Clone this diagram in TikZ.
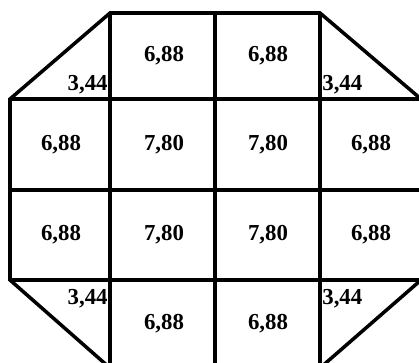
\documentclass[tikz,border=0pt]{standalone}
\usepackage{fontspec}
\setmainfont{Liberation Serif}
\usepackage{tikz}

\begin{document}
\begin{tikzpicture}[
    x=0.02cm, y=-0.02cm,
    edge/.style={line width=2pt, line join=miter, color=black},
    val/.style={font=\fontsize{13}{15}\bfseries\selectfont, inner sep=0pt}
]
  \useasboundingbox (0,0) rectangle (419,362);
  % Octagonal outline
  \draw[edge] (110,13) -- (320,13) -- (421,99) -- (421,280) -- (320,368)
    -- (110,368) -- (10,280) -- (10,99) -- cycle;
  % Inner grid lines
  \draw[edge] (110,13) -- (110,368);
  \draw[edge] (215,13) -- (215,368);
  \draw[edge] (320,13) -- (320,368);
  \draw[edge] (10,99) -- (421,99);
  \draw[edge] (10,190) -- (421,190);
  \draw[edge] (10,280) -- (421,280);
  % Top row
  \node[val, anchor=base east] (c11) at (108,90) {3,44};
  \node[val] (c12) at (164,56) {6,88};
  \node[val] (c13) at (268,56) {6,88};
  \node[val, anchor=base west] (c14) at (322,90) {3,44};
  % Second row
  \node[val] (c21) at (61,145) {6,88};
  \node[val] (c22) at (164,145) {7,80};
  \node[val] (c23) at (268,145) {7,80};
  \node[val] (c24) at (371,145) {6,88};
  % Third row
  \node[val] (c31) at (61,235) {6,88};
  \node[val] (c32) at (164,235) {7,80};
  \node[val] (c33) at (268,235) {7,80};
  \node[val] (c34) at (371,235) {6,88};
  % Bottom row
  \node[val, anchor=base east] (c41) at (108,304) {3,44};
  \node[val] (c42) at (164,324) {6,88};
  \node[val] (c43) at (268,324) {6,88};
  \node[val, anchor=base west] (c44) at (322,304) {3,44};
\end{tikzpicture}
\end{document}
